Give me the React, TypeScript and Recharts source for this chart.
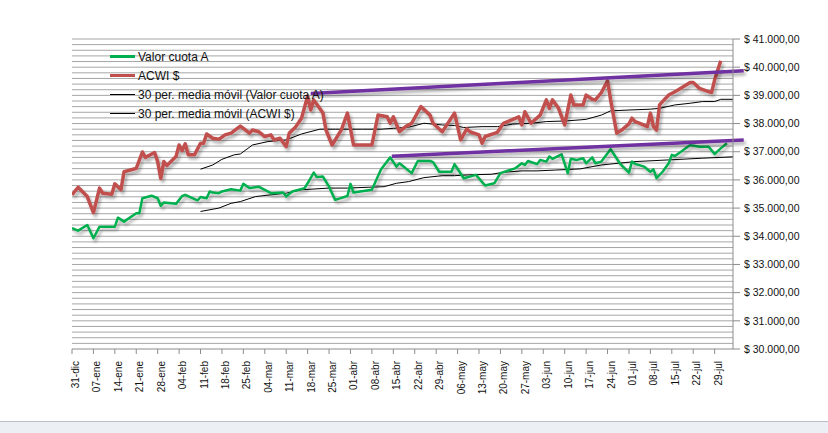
import { LineChart, Line, XAxis, YAxis, ReferenceLine, Legend } from 'recharts';

// x = days since 31-dic
const weekTicks = [0, 7, 14, 21, 28, 35, 42, 49, 56, 63, 70, 77, 84, 91, 98, 105, 112, 119, 126, 133, 140, 147, 154, 161, 168, 175, 182, 189, 196, 203, 210];
const weekLabels = ['31-dic', '07-ene', '14-ene', '21-ene', '28-ene', '04-feb', '11-feb', '18-feb', '25-feb', '04-mar', '11-mar', '18-mar', '25-mar', '01-abr', '08-abr', '15-abr', '22-abr', '29-abr', '06-may', '13-may', '20-may', '27-may', '03-jun', '10-jun', '17-jun', '24-jun', '01-jul', '08-jul', '15-jul', '22-jul', '29-jul'];

const yTicks = [30000, 31000, 32000, 33000, 34000, 35000, 36000, 37000, 38000, 39000, 40000, 41000];
const gridValues = [
  30200, 30400, 30600, 30800, 31000, 31200, 31400, 31600, 31800, 32000, 32200, 32400, 32600, 32800, 33000,
  33200, 33400, 33600, 33800, 34000, 34200, 34400, 34600, 34800, 35000, 35200, 35400, 35600, 35800, 36000,
  36200, 36400, 36600, 36800, 37000, 37200, 37400, 37600, 37800, 38000, 38200, 38400, 38600, 38800, 39000,
  39200, 39400, 39600, 39800, 40000, 40200, 40400, 40600, 40800, 41000,
];

const acwiDays = [0, 2, 5, 7, 9, 10, 13, 14, 16, 17, 20, 21, 23, 24, 27, 28, 29, 30, 31, 34, 35, 36, 37, 38, 40, 42, 43, 44, 46, 48, 50, 52, 55, 56, 58, 59, 61, 63, 65, 66, 68, 70, 71, 73, 75, 77, 78, 79, 82, 83, 85, 88, 90, 92, 98, 100, 103, 104, 105, 107, 109, 111, 114, 117, 118, 121, 125, 127, 129, 130, 133, 134, 135, 139, 141, 146, 147, 148, 150, 153, 155, 156, 157, 159, 161, 163, 164, 167, 168, 170, 171, 173, 175, 176, 178, 180, 182, 183, 184, 186, 188, 189, 190, 191, 192, 194, 195, 197, 198, 202, 203, 205, 209, 210, 212];
const acwiVals = [35470, 35740, 35410, 34840, 35710, 35530, 35490, 35860, 35650, 36290, 36380, 36410, 36990, 36800, 36970, 36650, 36050, 36650, 36510, 36830, 37240, 37040, 37280, 36890, 36890, 37300, 37300, 37630, 37480, 37440, 37600, 37660, 37910, 37830, 37660, 37770, 37710, 37540, 37600, 37420, 37480, 37180, 37660, 37870, 38190, 38980, 38480, 38840, 38370, 37770, 37240, 37770, 38370, 37240, 37240, 38300, 38240, 38010, 38240, 37710, 37890, 38010, 38600, 38300, 38010, 37710, 38370, 37420, 37810, 37710, 37600, 37300, 37540, 37690, 38010, 38240, 37950, 38420, 38010, 38300, 38840, 38540, 38840, 38540, 37950, 39010, 38660, 38660, 39010, 38860, 38840, 39100, 39520, 38840, 37660, 37800, 37990, 38190, 38070, 37990, 37890, 38370, 37890, 37770, 38660, 38900, 39010, 39130, 39190, 39460, 39460, 39250, 39100, 39550, 40230];

const cuotaDays = [0, 2, 5, 7, 9, 14, 15, 17, 21, 22, 23, 26, 28, 29, 30, 34, 36, 37, 41, 42, 44, 45, 46, 48, 49, 52, 55, 56, 58, 61, 63, 65, 69, 70, 72, 76, 77, 79, 80, 82, 84, 86, 90, 91, 92, 98, 101, 104, 106, 107, 111, 113, 117, 118, 120, 124, 125, 128, 132, 135, 138, 140, 145, 147, 148, 149, 152, 153, 155, 156, 157, 160, 162, 163, 165, 167, 168, 170, 171, 173, 176, 179, 182, 183, 184, 187, 189, 190, 191, 193, 195, 196, 197, 199, 202, 205, 208, 210, 212, 214];
const cuotaVals = [34290, 34200, 34400, 33930, 34340, 34340, 34660, 34520, 34820, 34820, 35350, 35440, 35350, 35080, 35200, 35150, 35430, 35470, 35270, 35390, 35350, 35590, 35550, 35530, 35590, 35670, 35620, 35860, 35710, 35760, 35650, 35530, 35550, 35410, 35590, 35710, 35880, 36260, 36100, 36120, 35760, 35290, 35430, 35860, 35550, 35650, 36380, 36800, 36470, 36590, 36240, 36670, 36670, 36630, 36290, 36290, 36560, 36060, 36180, 35800, 35880, 36240, 36420, 36590, 36530, 36670, 36560, 36710, 36650, 36830, 36750, 36910, 36240, 36750, 36710, 36770, 36590, 36800, 36590, 36650, 37090, 36590, 36260, 36650, 36570, 36470, 36290, 36380, 36060, 36290, 36590, 36890, 36850, 37000, 37240, 37180, 37180, 36920, 37120, 37300];

const maCuotaDays = [42, 48, 52, 55, 60, 70, 75, 84, 90, 97, 102, 106, 110, 115, 121, 125, 130, 137, 141, 147, 152, 158, 166, 173, 184, 195, 206, 216];
const maCuotaVals = [34880, 35000, 35170, 35230, 35410, 35530, 35650, 35710, 35710, 35740, 35760, 35880, 35940, 36080, 36150, 36150, 36180, 36200, 36270, 36320, 36320, 36350, 36390, 36530, 36650, 36710, 36770, 36820];

const maAcwiDays = [42, 46, 49, 53, 55, 59, 64, 70, 75, 81, 86, 95, 101, 105, 110, 115, 121, 125, 128, 134, 139, 144, 150, 155, 161, 166, 168, 173, 176, 182, 189, 192, 197, 202, 206, 210, 212, 216];
const maAcwiVals = [36380, 36530, 36730, 36890, 36920, 37240, 37360, 37420, 37630, 37800, 37800, 37800, 37800, 37830, 37870, 38010, 37950, 37930, 37860, 37890, 37890, 37980, 38010, 38070, 38090, 38130, 38150, 38300, 38450, 38480, 38510, 38540, 38660, 38720, 38780, 38780, 38860, 38860];

// hand-drawn channel lines
const upperTrend = [{ x: 78, y: 39070 }, { x: 219.5, y: 39870 }];
const lowerTrend = [{ x: 104.5, y: 36840 }, { x: 219.5, y: 37420 }];

const toPoints = (days: number[], vals: number[]) => days.map((d, i) => ({ d, v: vals[i] }));

const GREEN = '#00b050';
const RED = '#c0504d';
const PURPLE = '#7030a0';

const legendItems = [
  { name: 'Valor cuota A', color: GREEN, width: 2.5 },
  { name: 'ACWI $', color: RED, width: 3 },
  { name: '30 per. media móvil (Valor cuota A)', color: '#000', width: 1 },
  { name: '30 per. media móvil (ACWI $)', color: '#000', width: 1 },
];

const fmtMoney = (v: number) => `$ ${Math.floor(v / 1000)}.${String(v % 1000).padStart(3, '0')},00`;

const XTick = (props: any) => {
  const { x, y, payload } = props;
  const idx = weekTicks.indexOf(payload.value);
  return (
    <text x={x} y={y} dy={7} transform={`rotate(-90 ${x} ${y})`} textAnchor="end" fontSize={10} fill="#111" fontFamily="Liberation Sans, Arial, sans-serif">
      {weekLabels[idx]}
    </text>
  );
};

const renderLegend = () => (
  <div style={{ fontFamily: 'Liberation Sans, Arial, sans-serif', fontSize: 12, color: '#111' }}>
    {legendItems.map((it) => (
      <div key={it.name} style={{ display: 'flex', alignItems: 'center', height: 19 }}>
        <div style={{ width: 25, height: it.width, background: it.color, marginRight: 3 }} />
        <span>{it.name}</span>
      </div>
    ))}
  </div>
);

export default function App() {
  return (
    <div style={{ position: 'absolute', left: 0, top: 0, width: 828, height: 433, background: '#fff' }}>
      <style>{'.sh path, .sh line { filter: url(#sh); }'}</style>
      <LineChart width={828} height={421} margin={{ top: 39, right: 5, bottom: 8, left: 72 }}>
        <defs>
          <filter id="sh" x="-5%" y="-20%" width="110%" height="140%">
            <feDropShadow dx="2" dy="3" stdDeviation="1.5" floodColor="#000" floodOpacity="0.3" />
          </filter>
        </defs>
        <XAxis
          type="number"
          dataKey="d"
          domain={[0, 216]}
          ticks={weekTicks}
          interval={0}
          allowDataOverflow
          height={64}
          tickSize={5}
          tickMargin={7}
          stroke="#8c8c8c"
          tick={<XTick />}
        />
        <YAxis
          orientation="right"
          type="number"
          dataKey="v"
          domain={[30000, 41000]}
          ticks={yTicks}
          interval={0}
          width={90}
          tickSize={7}
          tickMargin={4}
          stroke="#8c8c8c"
          tickFormatter={fmtMoney}
          tick={{ fontSize: 10.5, fill: '#111', fontFamily: 'Liberation Sans, Arial, sans-serif', textAnchor: 'start' }}
        />
        {gridValues.map((g) => (
          <ReferenceLine key={g} y={g} stroke="#a6a6a6" strokeWidth={1} ifOverflow="visible" />
        ))}
        <Line data={toPoints(maCuotaDays, maCuotaVals)} dataKey="v" name="30 per. media móvil (Valor cuota A)" stroke="#000" strokeWidth={1} dot={false} isAnimationActive={false} />
        <Line data={toPoints(maAcwiDays, maAcwiVals)} dataKey="v" name="30 per. media móvil (ACWI $)" stroke="#000" strokeWidth={1} dot={false} isAnimationActive={false} />
        <Line className="sh" data={toPoints(cuotaDays, cuotaVals)} dataKey="v" name="Valor cuota A" stroke={GREEN} strokeWidth={2.5} strokeLinejoin="round" dot={false} isAnimationActive={false} />
        <Line className="sh" data={toPoints(acwiDays, acwiVals)} dataKey="v" name="ACWI $" stroke={RED} strokeWidth={3.5} strokeLinejoin="round" dot={false} isAnimationActive={false} />
        <ReferenceLine className="sh" segment={upperTrend} stroke={PURPLE} strokeWidth={3.5} ifOverflow="visible" />
        <ReferenceLine className="sh" segment={lowerTrend} stroke={PURPLE} strokeWidth={3.5} ifOverflow="visible" />
        <Legend content={renderLegend} layout="vertical" verticalAlign="middle" align="center" wrapperStyle={{ left: 110, top: 47, width: 260 }} />
      </LineChart>
      <div style={{ position: 'absolute', left: 0, top: 421, width: 828, height: 12, background: '#eceff3', borderTop: '1px solid #b8bec6' }} />
    </div>
  );
}
